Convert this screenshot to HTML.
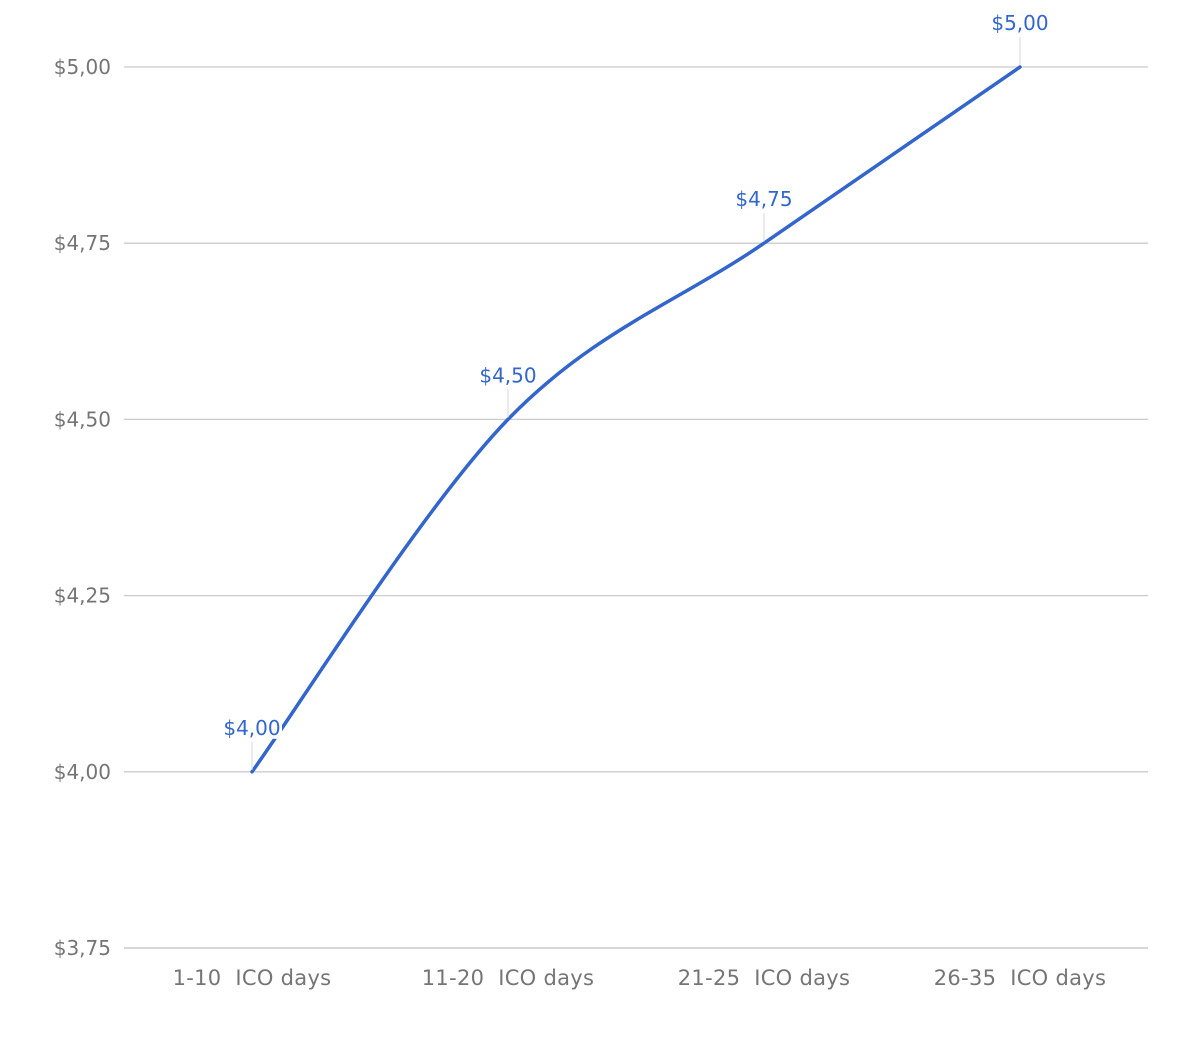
<!DOCTYPE html>
<html><head><meta charset="utf-8"><style>
html,body{margin:0;padding:0;background:#fff;}
svg text{font-family:"DejaVu Sans","Liberation Sans",sans-serif;}
</style></head><body>
<svg id="chart" width="1200" height="1044" viewBox="0 0 1200 1044" xmlns="http://www.w3.org/2000/svg">
<g id="grid"></g>
<g id="yaxis"></g>
<g id="xaxis"></g>
<g id="series"></g>
<g id="labels"></g>
</svg>
<script>
const categories = ["1-10  ICO days","11-20  ICO days","21-25  ICO days","26-35  ICO days"];
const prices = [4.00, 4.50, 4.75, 5.00];
const priceLabels = ["$4,00","$4,50","$4,75","$5,00"];
const yTicks = [3.75, 4.00, 4.25, 4.50, 4.75, 5.00];
const yTickLabels = ["$3,75","$4,00","$4,25","$4,50","$4,75","$5,00"];

const NS = "http://www.w3.org/2000/svg";
const left = 124, right = 1148, yMin = 3.75, yMax = 5.00, yBottom = 948, yTop = 67;
const band = (right - left) / categories.length;
function x(i){ return left + band * (i + 0.5); }
function y(v){ return yBottom - (v - yMin) / (yMax - yMin) * (yBottom - yTop); }
function mk(tag, attrs, parent){ const e = document.createElementNS(NS, tag); for (const k in attrs) e.setAttribute(k, attrs[k]); parent.appendChild(e); return e; }

const grid = document.getElementById('grid'), yaxis = document.getElementById('yaxis'), xaxis = document.getElementById('xaxis');
yTicks.forEach((t, i) => {
  const l = mk('line', {x1: left, x2: right, y1: y(t), y2: y(t), stroke: i === 0 ? '#bdbdbd' : '#cccccc', 'stroke-width': 1.3}, grid);
  
  
  const tx = mk('text', {x: 111, y: y(t) + 7, 'text-anchor': 'end', 'font-size': 20, fill: '#757575'}, yaxis);
  tx.textContent = yTickLabels[i];
  
  
});
categories.forEach((c, i) => {
  const tx = mk('text', {x: x(i), y: 985, 'text-anchor': 'middle', 'font-size': 21, 'letter-spacing': 0.3, fill: '#757575'}, xaxis);
  tx.setAttribute('style', 'white-space:pre');
  tx.textContent = c;
  
  
});

const pts = prices.map((p, i) => [x(i), y(p)]);
let d = 'M' + pts[0][0] + ',' + pts[0][1];
const k = 0.5 / 3 * 2;
for (let i = 0; i < pts.length - 1; i++) {
  const p0 = pts[Math.max(0, i - 1)], p1 = pts[i], p2 = pts[i + 1], p3 = pts[Math.min(pts.length - 1, i + 2)];
  const c1 = [p1[0] + (p2[0] - p0[0]) * k / 2, p1[1] + (p2[1] - p0[1]) * k / 2];
  const c2 = [p2[0] - (p3[0] - p1[0]) * k / 2, p2[1] - (p3[1] - p1[1]) * k / 2];
  d += ' C' + c1.join(',') + ' ' + c2.join(',') + ' ' + p2.join(',');
}
const series = document.getElementById('series');
const path = mk('path', {d: d, fill: 'none', stroke: '#3366cc', 'stroke-width': 3.5, 'stroke-linecap': 'round'}, series);



const labels = document.getElementById('labels');
prices.forEach((p, i) => {
  const px = x(i), py = y(p);
  const ld = mk('line', {x1: px, x2: px, y1: py - 2, y2: py - 30, stroke: '#e0e0e0', 'stroke-width': 1.3}, labels);
  
  
  const bg = mk('rect', {x: px - 30, y: py - 57, width: 60, height: 24, fill: '#fff'}, labels);
  
  
  const tx = mk('text', {x: px, y: py - 37, 'text-anchor': 'middle', 'font-size': 20, fill: '#3366cc'}, labels);
  tx.textContent = priceLabels[i];
  
  
});
</script>
</body></html>
